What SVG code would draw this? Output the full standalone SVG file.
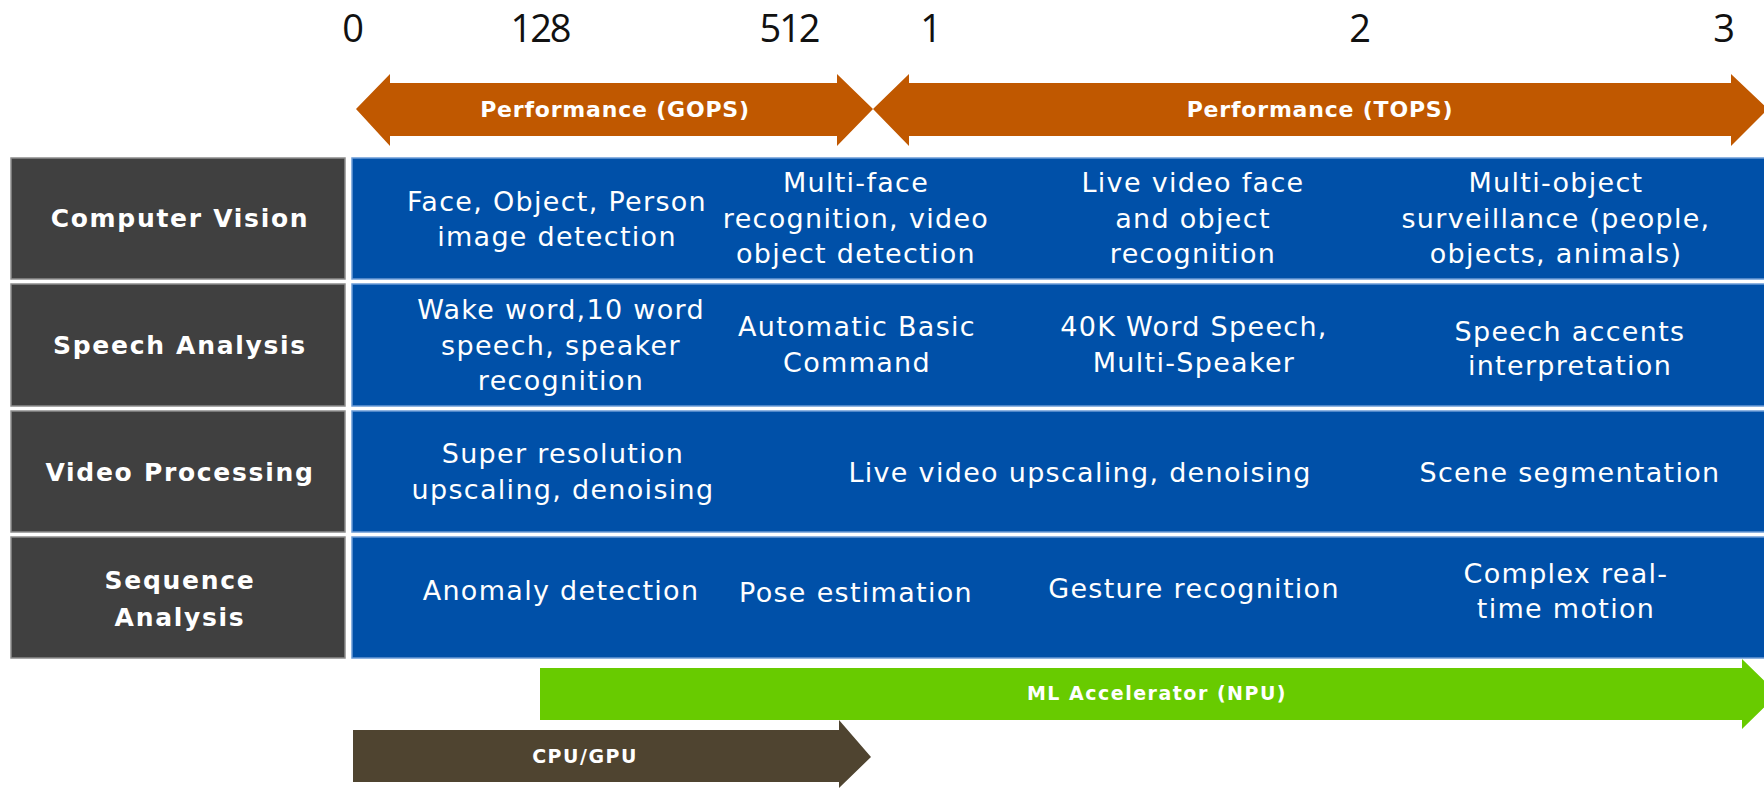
<svg xmlns="http://www.w3.org/2000/svg" width="1764" height="788" viewBox="0 0 1764 788">
  <style>
    .tick { font-family: "Open Sans", "Liberation Sans", sans-serif; font-size: 38px; letter-spacing: -2px; fill: #111111; text-anchor: middle; }
    .band { fill: #C05800; }
    .band-label { font-family: "DejaVu Sans", "Liberation Sans", sans-serif; font-weight: 700; font-size: 22px; letter-spacing: 0.8px; fill: #ffffff; text-anchor: middle; }
    .cat { fill: #404040; stroke: #8C8C8C; stroke-width: 1.5; }
    .cat-label { font-family: "DejaVu Sans", "Liberation Sans", sans-serif; font-weight: 700; font-size: 25px; letter-spacing: 1.7px; fill: #ffffff; text-anchor: middle; }
    .row { fill: #0050A8; stroke: #6A9AD6; stroke-width: 1.5; }
    .cell { font-family: "DejaVu Sans", "Liberation Sans", sans-serif; font-size: 27px; letter-spacing: 1.3px; fill: #ffffff; text-anchor: middle; }
    .hw-label { font-family: "DejaVu Sans", "Liberation Sans", sans-serif; font-weight: 700; font-size: 19px; letter-spacing: 1.5px; fill: #ffffff; text-anchor: middle; }
  </style>

  <!-- performance axis ticks -->
  <g id="axis-ticks">
    <text class="tick" x="352" y="42">0</text>
    <text class="tick" x="540" y="42">128</text>
    <text class="tick" x="789" y="42">512</text>
    <text class="tick" x="930" y="42">1</text>
    <text class="tick" x="1359" y="42">2</text>
    <text class="tick" x="1723" y="42">3</text>
  </g>

  <!-- performance ranges (double-headed bands) -->
  <g id="band-gops">
    <polygon class="band" points="356,109 390,74 390,83 837,83 837,74 873,109 837,146 837,136 390,136 390,146"/>
    <text class="band-label" x="615" y="117">Performance (GOPS)</text>
  </g>
  <g id="band-tops">
    <polygon class="band" points="873,109 909,74 909,83 1731,83 1731,74 1768,109 1731,146 1731,136 909,136 909,146"/>
    <text class="band-label" x="1320" y="117">Performance (TOPS)</text>
  </g>

  <!-- workload categories -->
  <g id="row-computer-vision">
    <rect class="cat" x="11" y="158" width="334" height="121"/>
    <rect class="row" x="352" y="158" width="1420" height="121"/>
    <text class="cat-label" x="180" y="227">Computer Vision</text>
    <text class="cell" x="557" y="211">Face, Object, Person</text>
    <text class="cell" x="557" y="246">image detection</text>
    <text class="cell" x="856" y="192">Multi-face</text>
    <text class="cell" x="856" y="228">recognition, video</text>
    <text class="cell" x="856" y="263">object detection</text>
    <text class="cell" x="1193" y="192">Live video face</text>
    <text class="cell" x="1193" y="228">and object</text>
    <text class="cell" x="1193" y="263">recognition</text>
    <text class="cell" x="1556" y="192">Multi-object</text>
    <text class="cell" x="1556" y="228">surveillance (people,</text>
    <text class="cell" x="1556" y="263">objects, animals)</text>
  </g>

  <g id="row-speech-analysis">
    <rect class="cat" x="11" y="284" width="334" height="122"/>
    <rect class="row" x="352" y="284" width="1420" height="122"/>
    <text class="cat-label" x="180" y="354">Speech Analysis</text>
    <text class="cell" x="561" y="319">Wake word,10 word</text>
    <text class="cell" x="561" y="355">speech, speaker</text>
    <text class="cell" x="561" y="390">recognition</text>
    <text class="cell" x="857" y="336">Automatic Basic</text>
    <text class="cell" x="857" y="372">Command</text>
    <text class="cell" x="1194" y="336">40K Word Speech,</text>
    <text class="cell" x="1194" y="372">Multi-Speaker</text>
    <text class="cell" x="1570" y="341">Speech accents</text>
    <text class="cell" x="1570" y="375">interpretation</text>
  </g>

  <g id="row-video-processing">
    <rect class="cat" x="11" y="411" width="334" height="121"/>
    <rect class="row" x="352" y="411" width="1420" height="121"/>
    <text class="cat-label" x="180" y="481">Video Processing</text>
    <text class="cell" x="563" y="463">Super resolution</text>
    <text class="cell" x="563" y="499">upscaling, denoising</text>
    <text class="cell" x="1080" y="482">Live video upscaling, denoising</text>
    <text class="cell" x="1570" y="482">Scene segmentation</text>
  </g>

  <g id="row-sequence-analysis">
    <rect class="cat" x="11" y="537" width="334" height="121"/>
    <rect class="row" x="352" y="537" width="1420" height="121"/>
    <text class="cat-label" x="180" y="589">Sequence</text>
    <text class="cat-label" x="180" y="626">Analysis</text>
    <text class="cell" x="561" y="600">Anomaly detection</text>
    <text class="cell" x="856" y="602">Pose estimation</text>
    <text class="cell" x="1194" y="598">Gesture recognition</text>
    <text class="cell" x="1566" y="583">Complex real-</text>
    <text class="cell" x="1566" y="618">time motion</text>
  </g>

  <!-- hardware coverage arrows -->
  <g id="hw-npu">
    <polygon fill="#68CB00" points="540,668 1742,668 1742,659 1778,694 1742,729 1742,720 540,720"/>
    <text class="hw-label" x="1157" y="700">ML Accelerator (NPU)</text>
  </g>
  <g id="hw-cpu-gpu">
    <polygon fill="#4F4430" points="353,730 839,730 839,720 871,757 839,788 839,782 353,782"/>
    <text class="hw-label" x="585" y="763">CPU/GPU</text>
  </g>
</svg>
